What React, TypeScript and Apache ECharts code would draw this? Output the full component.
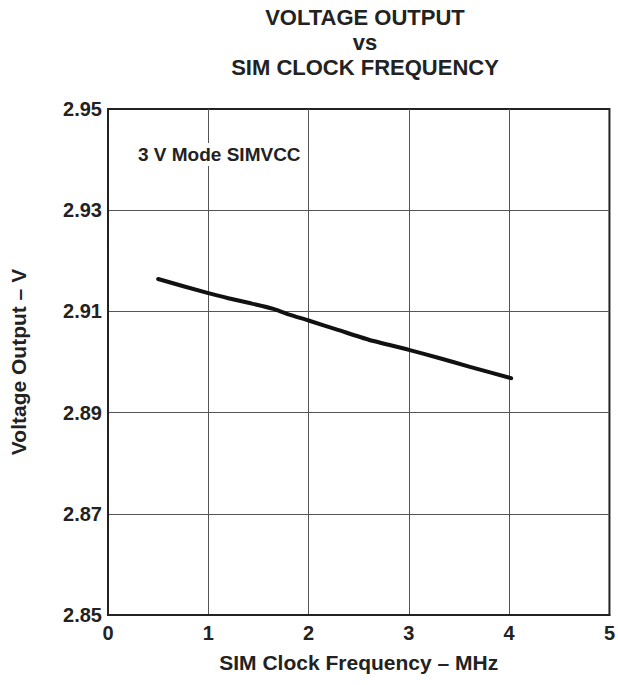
import React, { useEffect, useRef } from "react";
import * as echarts from "echarts";

const frequencyMHz = [0.5, 1.0, 1.2, 1.4, 1.65, 1.8, 2.0, 2.3, 2.6, 3.0, 3.3, 3.6, 4.02];
const voltageV = [2.9164, 2.9136, 2.9126, 2.9117, 2.9105, 2.9094, 2.9082, 2.9063, 2.9044, 2.9024, 2.9008, 2.8991, 2.8968];
const yBase = 2.85;
const yTop = 2.95;
const yStep = 0.02;
const titleLines = ["VOLTAGE OUTPUT", "vs", "SIM CLOCK FREQUENCY"];
const annotation = "3 V Mode SIMVCC";

const FONT = "'Liberation Sans', Arial, Helvetica, sans-serif";

export default function App() {
  const ref = useRef<HTMLDivElement>(null);
  useEffect(() => {
    document.body.style.margin = "0";
    const chart = echarts.init(ref.current!, null, { renderer: "svg" });
    const data = frequencyMHz.map((f, i) => [f, +(voltageV[i] - yBase).toFixed(4)]);
    chart.setOption({
      animation: false,
      backgroundColor: "#fff",
      textStyle: { fontFamily: FONT },
      title: [
        {
          text: titleLines.join("\n"),
          left: 360,
          textAlign: "center",
          top: 0,
          textStyle: { fontFamily: FONT, fontWeight: "bold", fontSize: 22, lineHeight: 25, color: "#222" },
        },
        {
          text: annotation,
          left: 133,
          top: 143,
          backgroundColor: "#fff",
          padding: [2, 5],
          textStyle: { fontFamily: FONT, fontWeight: "bold", fontSize: 19, color: "#222" },
        },
      ],
      grid: { left: 106, top: 109, right: 5, bottom: 70, show: true, borderColor: "#222", borderWidth: 2 },
      xAxis: {
        type: "value",
        min: 0,
        max: 5,
        interval: 1,
        name: "SIM Clock Frequency – MHz",
        nameLocation: "middle",
        nameGap: 37,
        nameTextStyle: { fontFamily: FONT, fontWeight: "bold", fontSize: 21, color: "#222" },
        axisLine: { show: true, lineStyle: { color: "#222", width: 2 } },
        axisTick: { show: false },
        axisLabel: { margin: 8, fontFamily: FONT, fontWeight: "bold", fontSize: 20, color: "#222" },
        splitLine: { show: true, showMinLine: false, showMaxLine: false, lineStyle: { color: "#555", width: 1 } },
      },
      yAxis: {
        type: "value",
        min: 0,
        max: +(yTop - yBase).toFixed(2),
        interval: yStep,
        name: "Voltage Output – V",
        nameLocation: "middle",
        nameGap: 79,
        nameTextStyle: { fontFamily: FONT, fontWeight: "bold", fontSize: 21, color: "#222" },
        axisLine: { show: true, lineStyle: { color: "#222", width: 2 } },
        axisTick: { show: false },
        axisLabel: {
          margin: 6,
          fontFamily: FONT,
          fontWeight: "bold",
          fontSize: 20,
          color: "#222",
          formatter: (v: number) => (yBase + v).toFixed(2),
        },
        splitLine: { show: true, showMinLine: false, showMaxLine: false, lineStyle: { color: "#555", width: 1 } },
      },
      series: [
        {
          type: "line",
          data,
          smooth: 0.2,
          showSymbol: false,
          lineStyle: { color: "#111", width: 4, cap: "round", join: "round" },
        },
      ],
    });
    return () => chart.dispose();
  }, []);
  return <div ref={ref} style={{ width: 618, height: 685 }} />;
}
